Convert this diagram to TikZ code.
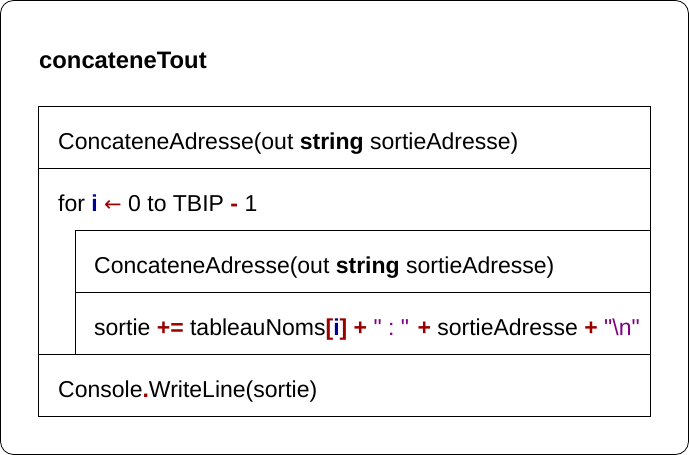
\documentclass[tikz,border=0pt]{standalone}
\usepackage{fontspec}
\setmainfont{Liberation Sans}
\newfontfamily\symfont{DejaVu Sans}
\definecolor{opred}{HTML}{990000}
\definecolor{varblue}{HTML}{000099}
\definecolor{strpurple}{HTML}{800080}
\newcommand{\op}[1]{\textcolor{opred}{\textbf{#1}}}
\newcommand{\vr}[1]{\textcolor{varblue}{\textbf{#1}}}
\newcommand{\st}[1]{\textcolor{strpurple}{#1}}
\newcommand{\dq}{\XeTeXglyph\numexpr\XeTeXcharglyph"22\relax}
\begin{document}
\begin{tikzpicture}[x=1pt,y=-1pt,
  txt/.style={anchor=base west,inner sep=0pt,font=\fontsize{23}{27}\selectfont},
  frame/.style={draw=black,line width=0.8pt}]
\useasboundingbox (0,0) rectangle (689,455);
\draw[frame,rounded corners=13pt] (0.5,0.5) rectangle (688.5,454.5);
\node[txt,font=\fontsize{23.8}{27}\selectfont\bfseries] (title) at (39,68) {concateneTout};
\draw[frame] (38.5,106.5) rectangle (650.5,416.5);
\draw[frame] (38.5,168.5) -- (650.5,168.5);
\draw[frame] (38.5,354.5) -- (650.5,354.5);
\draw[frame] (75.5,354.5) -- (75.5,230.5) -- (650.5,230.5);
\draw[frame] (75.5,292.5) -- (650.5,292.5);
\node[txt] (c1) at (58,149) {ConcateneAdresse(out \textbf{string} sortieAdresse)};
\node[txt] (for) at (58,211) {for \vr{i} \textcolor{opred}{{\symfont\fontsize{21}{24}\selectfont ←}} 0 to TBIP \op{-} 1};
\node[txt] (c2) at (94,273) {ConcateneAdresse(out \textbf{string} sortieAdresse)};
\node[txt] (s) at (94,335) {sortie \op{+=} tableauNoms\op{[}\vr{i}\op{]} \op{+} \st{\dq\ :\ \dq} \op{+} sortieAdresse \op{+} \st{\dq\textbackslash n\dq}};
\node[txt] (cw) at (58,397) {Console\op{.}WriteLine(sortie)};
\end{tikzpicture}
\end{document}
